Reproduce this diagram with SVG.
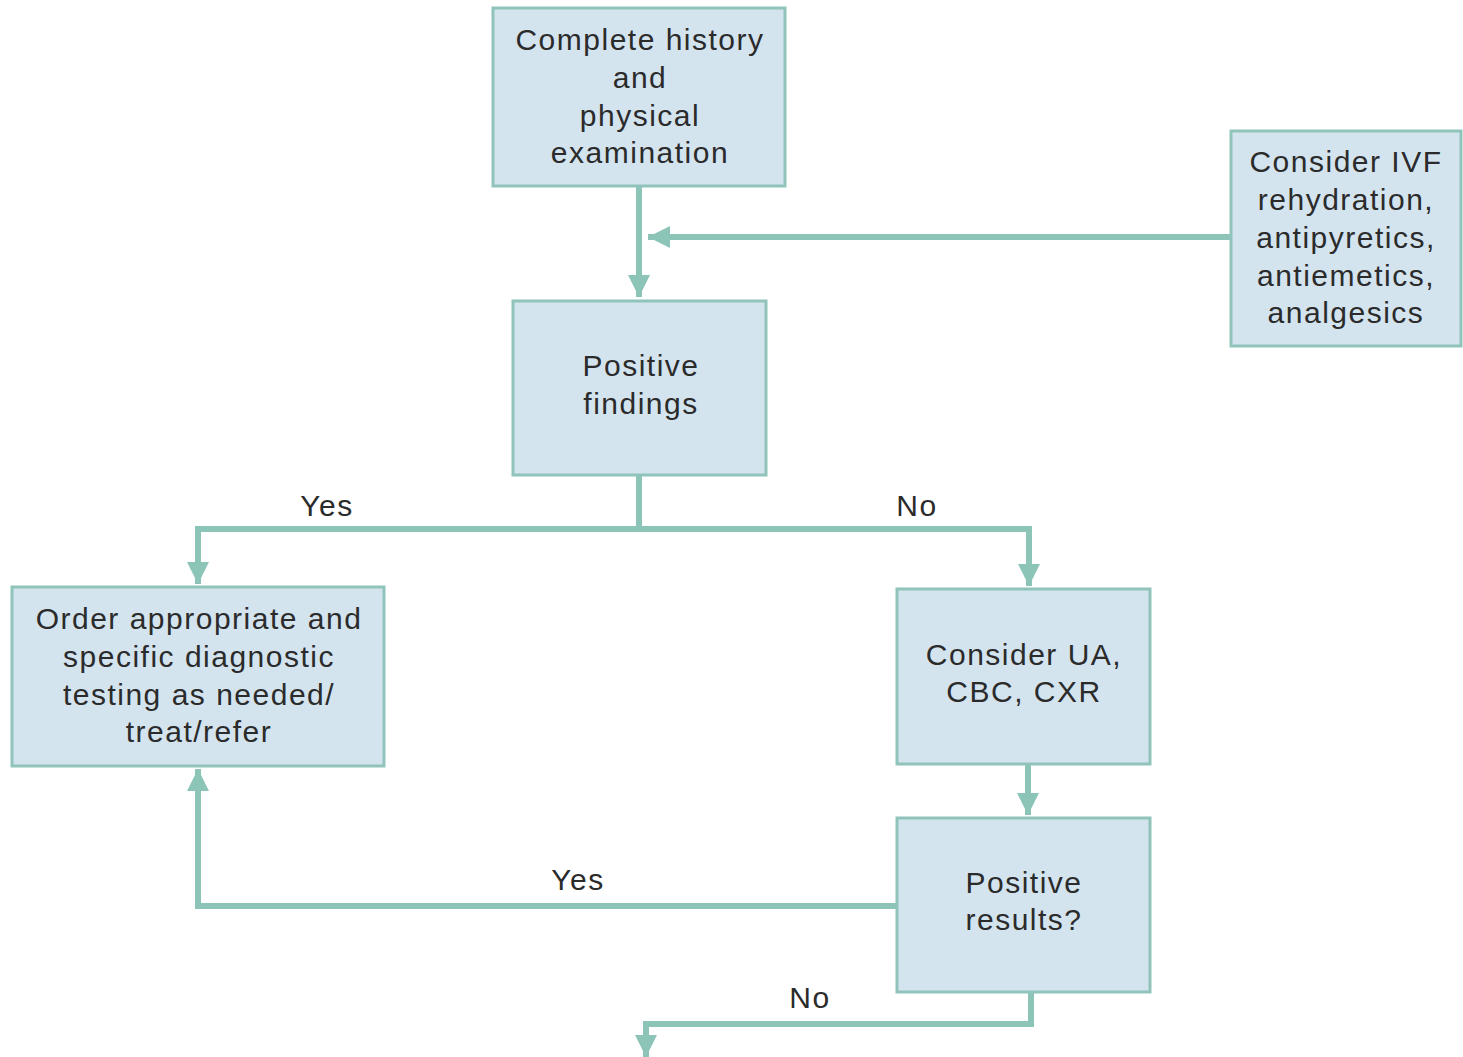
<svg xmlns="http://www.w3.org/2000/svg" width="1463" height="1057" viewBox="0 0 1463 1057">
<style>
.box{fill:#d3e4ef;stroke:#90c3ba;stroke-width:3}
.t{font-family:"Liberation Sans",Arial,sans-serif;font-size:30px;letter-spacing:1.5px;fill:#2b2b2b;text-anchor:middle}
.c{fill:none;stroke:#8cc5b8;stroke-width:6}
</style>
<defs>
<marker id="ah" markerUnits="userSpaceOnUse" markerWidth="24" markerHeight="22" refX="22" refY="11" orient="auto">
<path d="M0,0 L22,11 L0,22 Z" fill="#8cc5b8"/>
</marker>
</defs>
<rect width="1463" height="1057" fill="#ffffff"/>
<g id="connectors">
<path class="c" d="M639,186 V297" marker-end="url(#ah)"/>
<path class="c" d="M1231,237 H648" marker-end="url(#ah)"/>
<path class="c" d="M639,475 V529"/>
<path class="c" d="M639,529 H198 V584" marker-end="url(#ah)"/>
<path class="c" d="M639,529 H1029 V586" marker-end="url(#ah)"/>
<path class="c" d="M1028,764 V815" marker-end="url(#ah)"/>
<path class="c" d="M897,906 H198 V769" marker-end="url(#ah)"/>
<path class="c" d="M1031,992 V1024 H646 V1057" marker-end="url(#ah)"/>
<text class="t" x="327" y="516">Yes</text>
<text class="t" x="917" y="516">No</text>
<text class="t" x="578" y="890">Yes</text>
<text class="t" x="810" y="1008">No</text>
</g>
<g id="n1">
<rect class="box" x="493" y="8" width="292" height="178"/>
<text class="t" x="640" y="50">Complete history</text>
<text class="t" x="640" y="88">and</text>
<text class="t" x="640" y="126">physical</text>
<text class="t" x="640" y="163">examination</text>
</g>
<g id="n2">
<rect class="box" x="513" y="301" width="253" height="174"/>
<text class="t" x="641" y="376">Positive</text>
<text class="t" x="641" y="414">findings</text>
</g>
<g id="n3">
<rect class="box" x="1231" y="131" width="230" height="215"/>
<text class="t" x="1346" y="172">Consider IVF</text>
<text class="t" x="1346" y="210">rehydration,</text>
<text class="t" x="1346" y="248">antipyretics,</text>
<text class="t" x="1346" y="286">antiemetics,</text>
<text class="t" x="1346" y="323">analgesics</text>
</g>
<g id="n4">
<rect class="box" x="12" y="587" width="372" height="179"/>
<text class="t" x="199" y="629">Order appropriate and</text>
<text class="t" x="199" y="667">specific diagnostic</text>
<text class="t" x="199" y="705">testing as needed/</text>
<text class="t" x="199" y="742">treat/refer</text>
</g>
<g id="n5">
<rect class="box" x="897" y="589" width="253" height="175"/>
<text class="t" x="1024" y="665">Consider UA,</text>
<text class="t" x="1024" y="702">CBC, CXR</text>
</g>
<g id="n6">
<rect class="box" x="897" y="818" width="253" height="174"/>
<text class="t" x="1024" y="893">Positive</text>
<text class="t" x="1024" y="930">results?</text>
</g>
</svg>
